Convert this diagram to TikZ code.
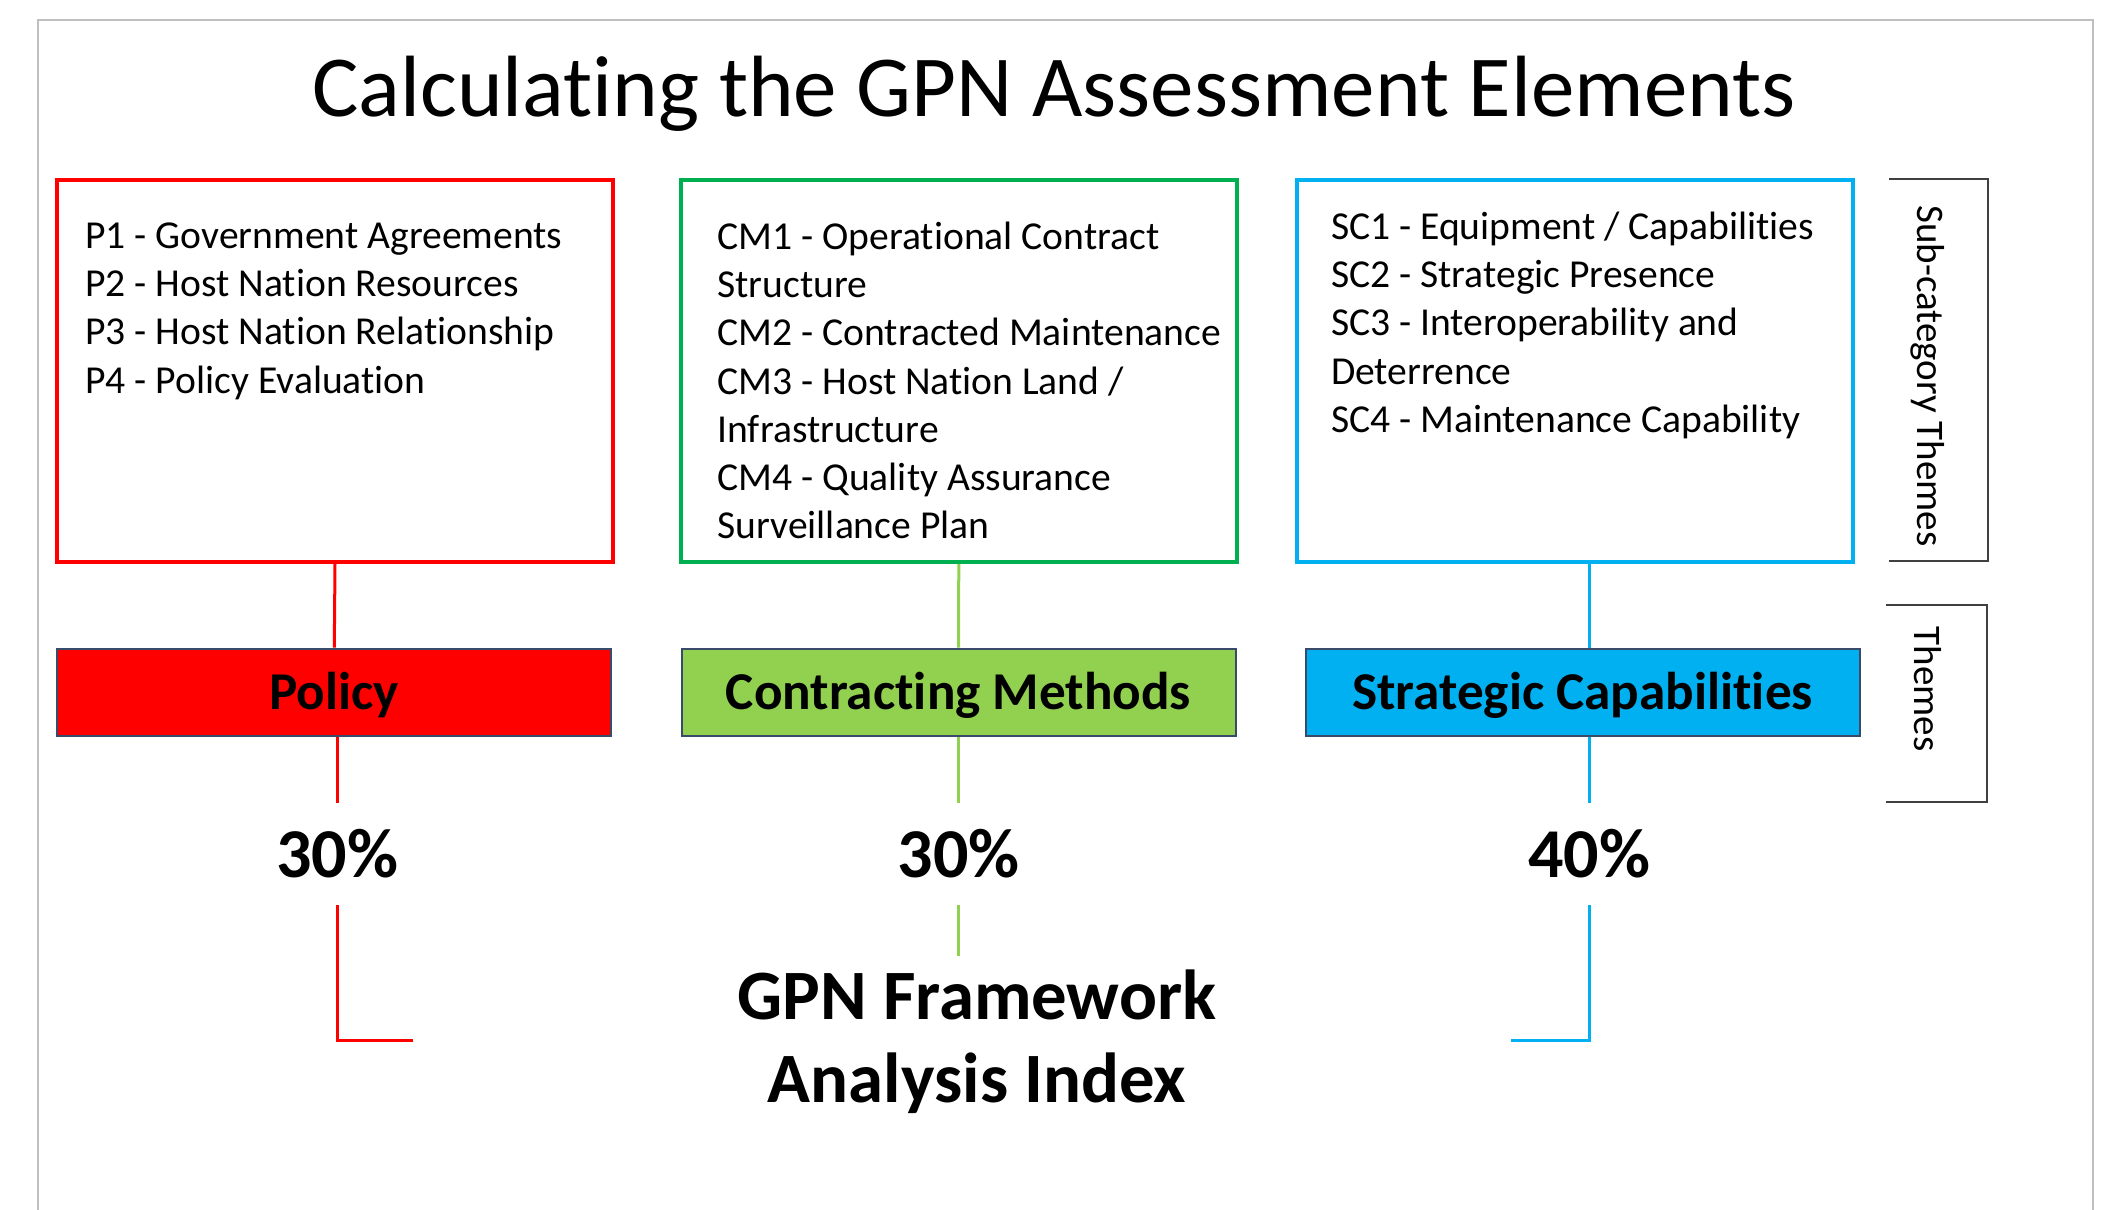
\documentclass[tikz,border=0pt]{standalone}
\usepackage{fontspec}
\setmainfont{Carlito}[Ligatures={NoCommon,NoContextual}, Contextuals=NoAlternate]
\usepackage{tikz}

\definecolor{polred}{HTML}{FF0000}
\definecolor{cmgreen}{HTML}{00B050}
\definecolor{cmlime}{HTML}{92D050}
\definecolor{scblue}{HTML}{00B0F0}
\definecolor{barline}{HTML}{3A4A6A}
\definecolor{framegray}{HTML}{BFBFBF}
\definecolor{bracketgray}{HTML}{404040}

\tikzset{
  subbox/.style={draw=#1, line width=2pt, minimum width=278pt, minimum height=191pt, inner sep=0pt},
  subtext/.style={anchor=north west, inner sep=0pt, align=left, font=\fontsize{19.8}{24.1}\selectfont},
  themebar/.style={fill=#1, draw=barline, line width=1pt, minimum width=277pt, minimum height=43.7pt, inner sep=0pt, text height=19pt, text depth=2pt, font=\bfseries\fontsize{26.6}{30}\selectfont},
  pctlabel/.style={anchor=base, font=\bfseries\fontsize{35}{40}\selectfont, text height=23pt, text depth=0pt, inner xsep=0pt, inner ysep=14pt},
  joinline/.style={draw=#1, line width=1.5pt},
  sidelabel/.style={rotate=-90, inner sep=0pt, font=\fontsize{19.5}{22}\selectfont},
  bracket/.style={draw=bracketgray, line width=1.2pt}
}

\begin{document}
\begin{tikzpicture}[x=0.5pt, y=-0.5pt]
\useasboundingbox (0,0) rectangle (2111,1210);
\draw[framegray, line width=1pt] (38,1210) -- (38,20) -- (2093,20) -- (2093,1210);
\node[anchor=base, inner sep=0pt, font=\fontsize{43.5}{50}\selectfont] (title) at (1054,116) {Calculating the GPN Assessment Elements};

% sub-category boxes
\node[subbox=polred] (pbox) at (335,371) {};
\node[subbox=cmgreen] (cmbox) at (958.8,371) {};
\node[subbox=scblue] (scbox) at (1575.3,371) {};
\node[subtext] (ptext) at (85,220) {\rule{0pt}{14pt}P1 - Government Agreements\\
  P2 - Host Nation Resources\\ P3 - Host Nation Relationship\\ P4 - Policy Evaluation};
\node[subtext] (cmtext) at (717,221) {\rule{0pt}{14pt}CM1 - Operational Contract\\ Structure\\
  CM2 - Contracted Maintenance\\ CM3 - Host Nation Land /\\ Infrastructure\\
  CM4 - Quality Assurance\\ Surveillance Plan};
\node[subtext] (sctext) at (1330.6,211) {\rule{0pt}{14pt}SC1 - Equipment / Capabilities\\
  SC2 - Strategic Presence\\ SC3 - Interoperability and\\ Deterrence\\ SC4 - Maintenance Capability};

% themes
\node[themebar=polred] (policy) at (334.3,692.3) {Policy};
\node[themebar=cmlime] (cmbar) at (958.5,692.3) {Contracting Methods};
\node[themebar=scblue] (scbar) at (1582.5,692.3) {Strategic Capabilities};

% weights
\node[pctlabel] (ppct) at (337.5,877) {30\%};
\node[pctlabel] (cmpct) at (958.8,877) {30\%};
\node[pctlabel] (scpct) at (1589,877) {40\%};

\node[anchor=north, align=center, inner sep=0pt, font=\bfseries\fontsize{35.4}{41.5}\selectfont] (index) at (977,967)
  {\rule{0pt}{26pt}GPN Framework\\ Analysis Index};

\coordinate (pend) at (413,1040);
\coordinate (cmend) at (958.8,956);
\coordinate (scend) at (1511,1040);

\draw[joinline=polred] (pbox.south) -- (policy.north);
\draw[joinline=polred] (policy.south -| ppct) -- (ppct.north);
\draw[joinline=polred] (ppct.south) |- (pend);
\draw[joinline=cmlime] (cmbox.south) -- (cmbar.north);
\draw[joinline=cmlime] (cmbar.south -| cmpct) -- (cmpct.north);
\draw[joinline=cmlime] (cmpct.south) -- (cmend);
\draw[joinline=scblue] (scbox.south -| scpct) -- (scbar.north -| scpct);
\draw[joinline=scblue] (scbar.south -| scpct) -- (scpct.north);
\draw[joinline=scblue] (scpct.south) |- (scend);

% side brackets
\node[sidelabel] (sublabel) at (1928,376) {Sub-category Themes};
\node[sidelabel] (themelabel) at (1928,689) {Themes};
\draw[bracket] (1889,179) -| (1988,561) -- (1889,561);
\draw[bracket] (1886,605) -| (1987,802) -- (1886,802);
\end{tikzpicture}
\end{document}
